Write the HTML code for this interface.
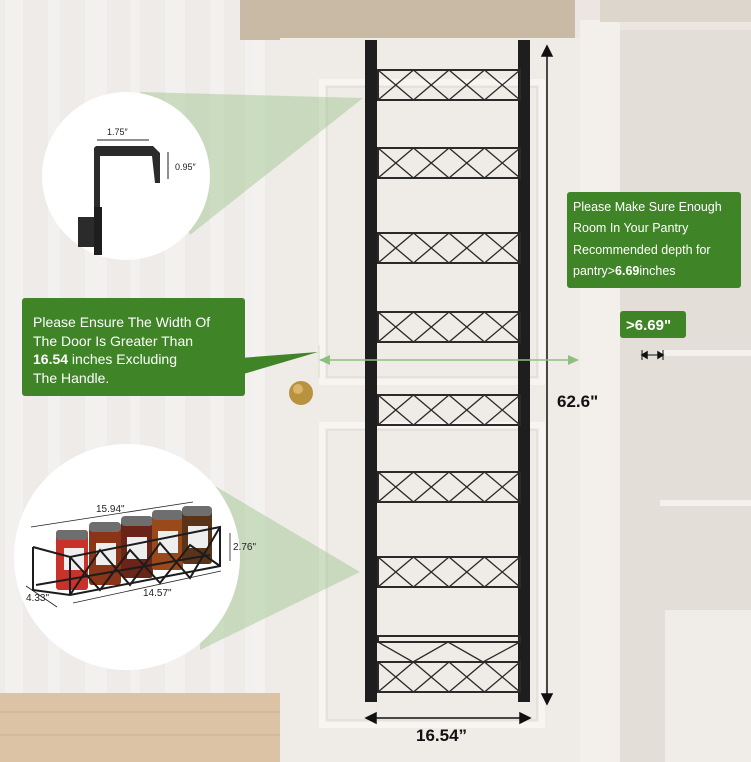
<!DOCTYPE html>
<html><head><meta charset="utf-8"><style>
html,body{margin:0;padding:0;width:751px;height:762px;overflow:hidden;background:#ece9e6}
svg{display:block}
text{font-family:"Liberation Sans",sans-serif}
</style></head><body>
<svg width="751" height="762" viewBox="0 0 751 762" xmlns="http://www.w3.org/2000/svg">
<rect x="0" y="0" width="290" height="762" fill="#eeebe8"/>
<g fill="#f7f6f4" opacity="0.6">
<rect x="5" y="0" width="18" height="700"/><rect x="48" y="0" width="12" height="700"/><rect x="85" y="0" width="22" height="700"/>
<rect x="130" y="0" width="10" height="700"/><rect x="165" y="0" width="20" height="700"/><rect x="210" y="0" width="14" height="700"/><rect x="245" y="0" width="20" height="700"/>
</g>
<rect x="0" y="693" width="290" height="69" fill="#dcc3a5"/>
<g stroke="#cdb291" stroke-width="1"><line x1="0" y1="712" x2="290" y2="712"/><line x1="0" y1="735" x2="290" y2="735"/></g>
<rect x="240" y="0" width="360" height="40" fill="#c9baa5"/>
<rect x="575" y="0" width="176" height="762" fill="#ebe6e1"/>
<rect x="580" y="20" width="40" height="742" fill="#f3efea"/>
<rect x="620" y="30" width="131" height="732" fill="#e3ded8"/>
<rect x="600" y="0" width="151" height="22" fill="#ddd6cc"/>
<rect x="660" y="350" width="91" height="6" fill="#f4f1ed"/>
<rect x="660" y="500" width="91" height="6" fill="#f4f1ed"/>
<rect x="665" y="610" width="86" height="152" fill="#f0ece7"/>
<rect x="280" y="38" width="300" height="724" fill="#efebe7"/>
<rect x="322" y="82" width="220" height="300" fill="none" stroke="#f7f4f1" stroke-width="6"/>
<rect x="322" y="425" width="220" height="300" fill="none" stroke="#f7f4f1" stroke-width="6"/>
<rect x="327" y="87" width="210" height="290" fill="none" stroke="#ddd7d1" stroke-width="1"/>
<rect x="327" y="430" width="210" height="290" fill="none" stroke="#ddd7d1" stroke-width="1"/>
<circle cx="301" cy="393" r="12" fill="#b8923f"/><circle cx="298" cy="389" r="5" fill="#d9b66a"/>
<rect x="365" y="40" width="12" height="662" fill="#1e1e1e"/>
<rect x="518" y="40" width="12" height="662" fill="#1e1e1e"/>
<g stroke="#2a2a2a" fill="none" stroke-width="2">
<g id="s1">
<rect x="378" y="70" width="142" height="30"/>
<path d="M378 70 l35.5 30 l35.5 -30 l35.5 30 l35.5 -30 M378 100 l35.5 -30 l35.5 30 l35.5 -30 l35.5 30" stroke-width="1.3"/>
</g>
<use href="#s1" y="78"/><use href="#s1" y="163"/><use href="#s1" y="242"/><use href="#s1" y="325"/><use href="#s1" y="402"/><use href="#s1" y="487"/><use href="#s1" y="592"/>
<rect x="378" y="636" width="142" height="6"/>
<path d="M378 642 l35 20 l35 -20 l35 20 l37 -20" stroke-width="1.3"/>
</g>
<g stroke="#111" stroke-width="1.5" fill="#111">
<line x1="547" y1="52" x2="547" y2="698"/>
<path d="M542 56 L547 46 L552 56Z"/><path d="M542 694 L547 704 L552 694Z"/>
<line x1="372" y1="718" x2="524" y2="718"/>
<path d="M376 713 L366 718 L376 723Z"/><path d="M520 713 L530 718 L520 723Z"/>
<line x1="643" y1="355" x2="662" y2="355" stroke-width="1"/>
<path d="M647 352 L642 355 L647 358Z"/><path d="M658 352 L663 355 L658 358Z"/>
<line x1="642" y1="350" x2="642" y2="360" stroke-width="1"/><line x1="663" y1="350" x2="663" y2="360" stroke-width="1"/>
</g>
<text x="557" y="407" font-size="17" font-weight="bold" fill="#111">62.6"</text>
<text x="416" y="741" font-size="17" font-weight="bold" fill="#111">16.54”</text>
<line x1="320" y1="360" x2="572" y2="360" stroke="#8fbf80" stroke-width="1.5"/>
<path d="M330 355 L319 360 L330 365Z" fill="#8fbf80"/><path d="M568 355 L579 360 L568 365Z" fill="#8fbf80"/>
<line x1="319" y1="345" x2="319" y2="378" stroke="#cfe0c8"/>
<path d="M140 92 L363 98 L190 235 Z" fill="#9cc48a" opacity="0.45"/>
<path d="M205 480 L360 572 L200 650 Z" fill="#9cc48a" opacity="0.45"/>
<circle cx="126" cy="176" r="84" fill="#fff"/>
<circle cx="127" cy="557" r="113" fill="#fff"/>
<path d="M94 148 L94 212 L100 212 L100 156 L152 156 L155 183 L160 183 L160 153 L153 146 L96 146Z" fill="#2b2b2b"/>
<rect x="78" y="217" width="22" height="30" fill="#2b2b2b"/>
<rect x="94" y="207" width="8" height="48" fill="#1e1e1e"/>
<g stroke="#222" stroke-width="1" fill="#222">
<line x1="97" y1="140" x2="149" y2="140"/>
<line x1="168" y1="152" x2="168" y2="179"/>
</g>
<text x="107" y="135" font-size="9" fill="#222">1.75″</text>
<text x="175" y="170" font-size="9" fill="#222">0.95″</text>
<g>
<rect x="56" y="530" width="32" height="60" rx="3" fill="#c8322a"/><rect x="56" y="530" width="32" height="10" rx="4" fill="#6e6e6e"/>
<rect x="89" y="525" width="32" height="60" rx="3" fill="#8a3418"/><rect x="89" y="522" width="32" height="10" rx="4" fill="#6e6e6e"/>
<rect x="121" y="518" width="32" height="60" rx="3" fill="#6a2418"/><rect x="121" y="516" width="32" height="10" rx="4" fill="#6e6e6e"/>
<rect x="152" y="512" width="31" height="58" rx="3" fill="#9a4a1a"/><rect x="152" y="510" width="31" height="10" rx="4" fill="#6e6e6e"/>
<rect x="182" y="507" width="30" height="57" rx="3" fill="#5a3418"/><rect x="182" y="506" width="30" height="10" rx="4" fill="#6e6e6e"/>
<rect x="64" y="548" width="20" height="22" fill="#eee"/><rect x="96" y="543" width="20" height="22" fill="#eee"/><rect x="127" y="537" width="20" height="22" fill="#eee"/><rect x="158" y="531" width="20" height="22" fill="#eee"/><rect x="188" y="526" width="20" height="22" fill="#eee"/>
<g stroke="#1c1c1c" stroke-width="2" fill="none">
<path d="M33 547 L33 590 L70 595 L220 566 L220 527 L70 557 L33 547"/>
<path d="M70 557 L70 595 M70 557 L100 590 L130 550 L160 583 L190 545 L220 566 M70 595 L100 550 L130 585 L160 543 L190 578 L220 527"/>
<path d="M36 585 L210 555"/>
</g>
<g stroke="#222" stroke-width="0.8"><line x1="31" y1="527" x2="193" y2="502"/><line x1="73" y1="603" x2="221" y2="571"/><line x1="230" y1="533" x2="230" y2="561"/><line x1="26" y1="586" x2="57" y2="607"/></g>
<text x="96" y="512" font-size="10" fill="#222">15.94"</text>
<text x="233" y="550" font-size="10" fill="#222">2.76"</text>
<text x="143" y="596" font-size="10" fill="#222">14.57"</text>
<text x="26" y="601" font-size="10" fill="#222">4.33"</text>
</g>
<path d="M240 358 L318 352 L240 375Z" fill="#3f8427"/>
<rect x="22" y="298" width="223" height="98" rx="3" fill="#3f8427"/>
<g font-size="14" fill="#fff">
<text x="33" y="327">Please Ensure The Width Of</text>
<text x="33" y="346">The Door Is Greater Than</text>
<text x="33" y="364"><tspan font-weight="bold">16.54</tspan> inches Excluding</text>
<text x="33" y="383">The Handle.</text>
</g>
<rect x="567" y="192" width="174" height="96" rx="3" fill="#3f8427"/>
<g font-size="12.5" fill="#fff">
<text x="573" y="211">Please Make Sure Enough</text>
<text x="573" y="232">Room In Your Pantry</text>
<text x="573" y="254">Recommended depth for</text>
<text x="573" y="275">pantry&gt;<tspan font-weight="bold">6.69</tspan>inches</text>
</g>
<rect x="620" y="311" width="66" height="27" rx="3" fill="#3f8427"/>
<text x="626" y="330" font-size="15" font-weight="bold" fill="#fff">&gt;6.69"</text>
</svg>
</body></html>
